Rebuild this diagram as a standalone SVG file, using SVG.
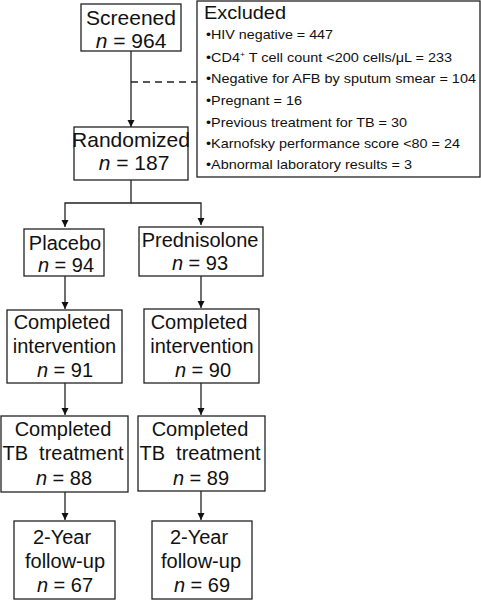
<svg xmlns="http://www.w3.org/2000/svg" width="481" height="600" viewBox="0 0 481 600">
<defs>
<marker id="ah" markerUnits="userSpaceOnUse" markerWidth="8" markerHeight="9" refX="7" refY="4" orient="auto">
<path d="M0,0.5 L7,4 L0,7.5 Z" fill="#111"/>
</marker>
<style>
.box{fill:#fff;stroke:#222;stroke-width:1.3}
.t{font-family:"Liberation Sans",Arial,sans-serif;font-size:20px;fill:#111;text-anchor:middle}
.big{font-size:21px}
.s{font-family:"Liberation Sans",Arial,sans-serif;font-size:13.5px;fill:#111}
.h{font-family:"Liberation Sans",Arial,sans-serif;font-size:19px;fill:#111}
.c{fill:none;stroke:#222;stroke-width:1.3}
.d{fill:none;stroke:#222;stroke-width:1.3;stroke-dasharray:7,5}
</style>
</defs>
<rect width="481" height="600" fill="#fff"/>
<g id="connectors">
<line class="c" x1="131" y1="51" x2="131" y2="127" marker-end="url(#ah)"/>
<line class="d" x1="131" y1="82" x2="197" y2="82"/>
<polyline class="c" points="131,180 131,203 65,203 65,227" marker-end="url(#ah)"/>
<polyline class="c" points="131,203 201,203 201,225" marker-end="url(#ah)"/>
<line class="c" x1="65" y1="276" x2="65" y2="309" marker-end="url(#ah)"/>
<line class="c" x1="201" y1="276" x2="201" y2="308" marker-end="url(#ah)"/>
<line class="c" x1="65" y1="383" x2="65" y2="415" marker-end="url(#ah)"/>
<line class="c" x1="201" y1="383" x2="201" y2="415" marker-end="url(#ah)"/>
<line class="c" x1="65" y1="492" x2="65" y2="520" marker-end="url(#ah)"/>
<line class="c" x1="201" y1="491" x2="201" y2="520" marker-end="url(#ah)"/>
</g>
<g id="screened">
<rect class="box" x="81" y="4" width="100" height="47"/>
<text class="t big" x="131" y="25">Screened</text>
<text class="t big" x="131" y="48"><tspan font-style="italic">n</tspan> = 964</text>
</g>
<g id="excluded">
<rect class="box" x="197" y="1" width="283" height="176"/>
<text class="h" x="204" y="19" textLength="82" lengthAdjust="spacingAndGlyphs">Excluded</text>
<text class="s" x="206" y="39" textLength="127" lengthAdjust="spacingAndGlyphs">•HIV negative = 447</text>
<text class="s" x="206" y="61.5" textLength="246" lengthAdjust="spacingAndGlyphs">•CD4<tspan font-size="8" dy="-5">+</tspan><tspan dy="5"> T cell count &lt;200 cells/μL = 233</tspan></text>
<text class="s" x="206" y="83" textLength="270" lengthAdjust="spacingAndGlyphs">•Negative for AFB by sputum smear = 104</text>
<text class="s" x="206" y="105" textLength="96" lengthAdjust="spacingAndGlyphs">•Pregnant = 16</text>
<text class="s" x="206" y="126.5" textLength="201" lengthAdjust="spacingAndGlyphs">•Previous treatment for TB = 30</text>
<text class="s" x="206" y="148" textLength="254" lengthAdjust="spacingAndGlyphs">•Karnofsky performance score &lt;80 = 24</text>
<text class="s" x="206" y="169" textLength="206" lengthAdjust="spacingAndGlyphs">•Abnormal laboratory results = 3</text>
</g>
<g id="randomized">
<rect class="box" x="74" y="127" width="114" height="53"/>
<text class="t big" x="131" y="147">Randomized</text>
<text class="t big" x="134" y="170"><tspan font-style="italic">n</tspan> = 187</text>
</g>
<g id="placebo">
<rect class="box" x="24" y="229" width="80" height="47"/>
<text class="t" x="65" y="250">Placebo</text>
<text class="t" x="66" y="272"><tspan font-style="italic">n</tspan> = 94</text>
</g>
<g id="prednisolone">
<rect class="box" x="139" y="227" width="124" height="49"/>
<text class="t" x="200" y="247">Prednisolone</text>
<text class="t" x="200" y="270"><tspan font-style="italic">n</tspan> = 93</text>
</g>
<g id="ci-placebo">
<rect class="box" x="7" y="310" width="115" height="73"/>
<text class="t" x="62" y="329">Completed</text>
<text class="t" x="64.5" y="353">intervention</text>
<text class="t" x="65" y="377"><tspan font-style="italic">n</tspan> = 91</text>
</g>
<g id="ci-pred">
<rect class="box" x="144" y="309" width="115" height="74"/>
<text class="t" x="199" y="329">Completed</text>
<text class="t" x="202" y="353">intervention</text>
<text class="t" x="203" y="377"><tspan font-style="italic">n</tspan> = 90</text>
</g>
<g id="tb-placebo">
<rect class="box" x="1" y="416" width="127" height="76"/>
<text class="t" x="63" y="436">Completed</text>
<text class="t" x="63" y="460" xml:space="preserve">TB  treatment</text>
<text class="t" x="64" y="485"><tspan font-style="italic">n</tspan> = 88</text>
</g>
<g id="tb-pred">
<rect class="box" x="138" y="416" width="127" height="75"/>
<text class="t" x="200" y="436">Completed</text>
<text class="t" x="200" y="460" xml:space="preserve">TB  treatment</text>
<text class="t" x="201" y="485"><tspan font-style="italic">n</tspan> = 89</text>
</g>
<g id="fu-placebo">
<rect class="box" x="14" y="521" width="101" height="78"/>
<text class="t" x="62" y="544">2-Year</text>
<text class="t" x="65" y="568">follow-up</text>
<text class="t" x="65" y="592"><tspan font-style="italic">n</tspan> = 67</text>
</g>
<g id="fu-pred">
<rect class="box" x="152" y="521" width="100" height="78"/>
<text class="t" x="199" y="544">2-Year</text>
<text class="t" x="201" y="568">follow-up</text>
<text class="t" x="202" y="592"><tspan font-style="italic">n</tspan> = 69</text>
</g>
</svg>
